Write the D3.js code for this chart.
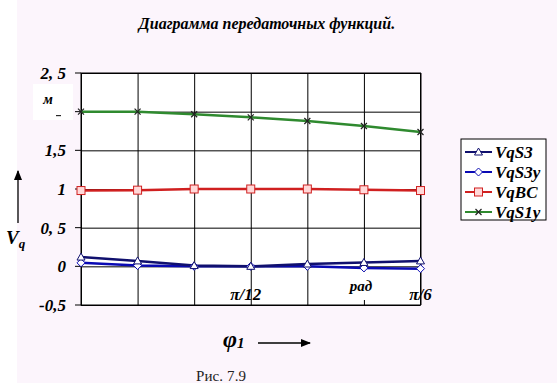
<!DOCTYPE html>
<html><head><meta charset="utf-8">
<script src="https://cdn.jsdelivr.net/npm/d3@7"></script>
<style>body{margin:0;padding:0;background:#fff}svg{display:block}</style>
</head><body>
<svg id="c" width="557" height="383"></svg>
<script>
// ---- data ----
const points = [0, 1, 2, 3, 4, 5, 6];            // x steps: 0 .. π/6
const VqS3  = [0.12, 0.07, 0.01, 0.00, 0.03, 0.05, 0.07];
const VqS3y = [0.045, 0.01, 0.00, 0.00, 0.00, -0.02, -0.03];
const VqBC  = [0.98, 0.985, 1.00, 1.00, 1.00, 0.99, 0.98];
const VqS1y = [2.00, 2.00, 1.966, 1.927, 1.879, 1.815, 1.737];
const seriesNames = ["VqS3", "VqS3y", "VqBC", "VqS1y"];
const yTicks = [-0.5, 0, 0.5, 1, 1.5, 2, 2.5];
const yTickLabels = ["-0,5", "0", "0, 5", "1", "1,5", "", "2, 5"];
const xTickLabels = [{i: 3, t: "π/12"}, {i: 6, t: "π/6"}];

const svg = d3.select("#c");
const F = "'Liberation Serif','Times New Roman',serif";
svg.append("rect").attr("width",557).attr("height",383).attr("fill","#fcf5fc");
svg.append("rect").attr("width",17).attr("height",383).attr("fill","#ffffff");

const x = d3.scaleLinear().domain([0, 6]).range([81, 420.5]);
const y = d3.scaleLinear().domain([-0.5, 2.5]).range([305, 73]);

// title
svg.append("text").attr("x",267).attr("y",29).attr("text-anchor","middle")
  .attr("font-family",F).attr("font-weight","bold").attr("font-style","italic")
  .attr("font-size",16).attr("fill","#000").text("Диаграмма  передаточных функций.");

// plot background
svg.append("rect").attr("x",x(0)).attr("y",y(2.5)).attr("width",x(6)-x(0)).attr("height",y(-0.5)-y(2.5)).attr("fill","#ffffff");

// grid
const gy = svg.append("g").attr("transform",`translate(${x(0)},0)`)
  .call(d3.axisLeft(y).tickValues(yTicks).tickSize(-(x(6)-x(0))).tickFormat(""));
gy.select(".domain").remove();
gy.selectAll("line").attr("stroke","#000").attr("stroke-width",1);
svg.append("g").selectAll("line").data(yTicks).join("line")
  .attr("x1",x(0)-6).attr("x2",x(0)).attr("y1",d=>y(d)).attr("y2",d=>y(d)).attr("stroke","#000");
const gx = svg.append("g").attr("transform",`translate(0,${y(-0.5)})`)
  .call(d3.axisBottom(x).tickValues(points).tickSize(-(y(-0.5)-y(2.5))).tickFormat(""));
gx.select(".domain").remove();
gx.selectAll("line").attr("stroke","#000").attr("stroke-width",1);
svg.append("rect").attr("x",x(0)).attr("y",y(2.5)).attr("width",x(6)-x(0)).attr("height",y(-0.5)-y(2.5))
  .attr("fill","none").attr("stroke","#000");

// y tick labels
svg.append("g").selectAll("text").data(yTicks).join("text")
  .attr("x",66).attr("y",d=>y(d)+6).attr("text-anchor","end")
  .attr("font-family",F).attr("font-weight","bold").attr("font-style","italic").attr("font-size",17)
  .text((d,i)=>yTickLabels[i]);
// unit box
svg.append("rect").attr("x",33).attr("y",84).attr("width",40).attr("height",36).attr("fill","#ffffff");
svg.append("text").attr("x",48).attr("y",104).attr("text-anchor","middle")
  .attr("font-family",F).attr("font-weight","bold").attr("font-style","italic").attr("font-size",14).text("м");
svg.append("line").attr("x1",56).attr("x2",61).attr("y1",y(2)+4).attr("y2",y(2)+4).attr("stroke","#000");

// x tick labels and unit
svg.append("rect").attr("x",337).attr("y",272).attr("width",48).attr("height",28).attr("fill","#ffffff");
svg.append("text").attr("x",361).attr("y",291).attr("text-anchor","middle")
  .attr("font-family",F).attr("font-weight","bold").attr("font-style","italic").attr("font-size",15).text("рад");
svg.append("g").selectAll("text").data(xTickLabels).join("text")
  .attr("x",d=>x(d.i)-(d.i===6?0:5)).attr("y",300).attr("text-anchor","middle")
  .attr("font-family",F).attr("font-weight","bold").attr("font-style","italic").attr("font-size",17)
  .text(d=>d.t);

// series
const series = [
  {name:seriesNames[0], v:VqS3, color:"#10106e", marker:"tri", fill:"#ffffff"},
  {name:seriesNames[1], v:VqS3y, color:"#0a0ab4", marker:"dia", fill:"#ffffff"},
  {name:seriesNames[2], v:VqBC, color:"#d02020", marker:"sq", fill:"#ffd8d8"},
  {name:seriesNames[3], v:VqS1y, color:"#2f8a2f", marker:"x", fill:"none"}
];
const line = d3.line().x((d,i)=>x(points[i])).y(d=>y(d));
function marker(g, type, cx, cy, color, fill){
  if(type==="tri") g.append("path").attr("d",`M${cx},${cy-4}L${cx+4},${cy+3}L${cx-4},${cy+3}Z`).attr("fill",fill).attr("stroke",color).attr("stroke-width",1);
  else if(type==="dia") g.append("path").attr("d",`M${cx},${cy-4}L${cx+4},${cy}L${cx},${cy+4}L${cx-4},${cy}Z`).attr("fill",fill).attr("stroke",color).attr("stroke-width",1);
  else if(type==="sq") g.append("rect").attr("x",cx-4).attr("y",cy-4).attr("width",8).attr("height",8).attr("fill",fill).attr("stroke",color).attr("stroke-width",1);
  else if(type==="x") g.append("path").attr("d",`M${cx-3},${cy-3}L${cx+3},${cy+3}M${cx-3},${cy+3}L${cx+3},${cy-3}`).attr("stroke","#222").attr("stroke-width",1.2);
}
[3,2,1,0].forEach(k=>{
  const s = series[k];
  svg.append("path").datum(s.v).attr("d",line).attr("fill","none").attr("stroke",s.color).attr("stroke-width",2.5);
});
[3,2,1,0].forEach(k=>{
  const s = series[k];
  const g = svg.append("g");
  s.v.forEach((d,i)=>marker(g, s.marker, x(points[i]), y(d), s.color, s.fill));
});

// legend
svg.append("rect").attr("x",461).attr("y",139).attr("width",85).attr("height",81).attr("fill","#ffffff").attr("stroke","#000");
series.forEach((s,i)=>{
  const ly = 152 + i*20;
  const g = svg.append("g");
  g.append("line").attr("x1",465).attr("x2",492).attr("y1",ly).attr("y2",ly).attr("stroke",s.color).attr("stroke-width",2);
  marker(g, s.marker, 478.5, ly, s.color, s.fill);
  g.append("text").attr("x",495).attr("y",ly+6).attr("font-family",F).attr("font-weight","bold").attr("font-style","italic").attr("font-size",17).text(s.name);
});

// y axis name with arrow
const defs = svg.append("defs");
defs.append("marker").attr("id","ah").attr("viewBox","0 0 10 10").attr("refX",9).attr("refY",5)
  .attr("markerWidth",8).attr("markerHeight",8).attr("orient","auto")
  .append("path").attr("d","M0,1L10,5L0,9Z").attr("fill","#000");
svg.append("line").attr("x1",18).attr("x2",18).attr("y1",223).attr("y2",171).attr("stroke","#000").attr("stroke-width",1.3).attr("marker-end","url(#ah)");
const vq = svg.append("text").attr("x",6).attr("y",244).attr("font-family",F).attr("font-weight","bold").attr("font-style","italic").attr("font-size",19);
vq.append("tspan").text("V");
vq.append("tspan").attr("font-size",13).attr("dy",4).text("q");

// x axis name with arrow
const ph = svg.append("text").attr("x",223).attr("y",347).attr("font-family",F).attr("font-weight","bold").attr("font-style","italic").attr("font-size",24);
ph.append("tspan").text("φ");
ph.append("tspan").attr("font-size",15).attr("dy",1).text("1");
svg.append("line").attr("x1",258).attr("x2",310).attr("y1",343).attr("y2",343).attr("stroke","#000").attr("stroke-width",1.3).attr("marker-end","url(#ah)");

// caption
svg.append("text").attr("x",196).attr("y",381).attr("font-family",F).attr("font-size",15).attr("fill","#222")
  .attr("textLength",50).attr("lengthAdjust","spacing").text("Рис. 7.9");
</script>
</body></html>
